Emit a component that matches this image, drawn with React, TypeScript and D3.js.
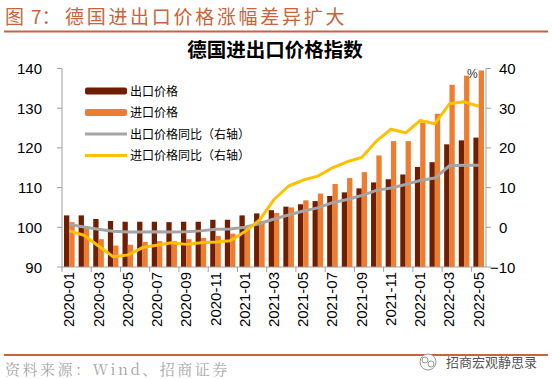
import React from "react";
import * as d3 from "d3";

const categories = [
  "2020-01","2020-02","2020-03","2020-04","2020-05","2020-06","2020-07","2020-08","2020-09","2020-10","2020-11","2020-12",
  "2021-01","2021-02","2021-03","2021-04","2021-05","2021-06","2021-07","2021-08","2021-09","2021-10","2021-11","2021-12",
  "2022-01","2022-02","2022-03","2022-04","2022-05",
];
const exportPrice = [103.0,103.0,102.1,101.6,101.4,101.4,101.4,101.3,101.4,101.4,101.9,101.9,103.0,103.5,104.3,105.2,105.8,106.6,107.9,108.8,109.8,111.3,112.1,113.3,115.2,116.4,120.9,121.9,122.6];
const importPrice = [101.3,100.1,97.0,95.4,95.6,96.3,96.5,96.5,97.0,97.3,97.8,98.4,99.8,101.6,103.6,105.0,106.8,108.5,110.9,112.4,113.9,118.1,121.7,121.7,126.4,128.6,135.9,138.2,139.5];
const exportYoY = [0.7,0.1,-0.5,-1.0,-1.2,-1.2,-1.1,-1.2,-1.1,-0.9,-0.5,-0.4,0.0,0.9,2.1,3.1,4.1,4.9,6.2,7.0,8.0,9.3,9.9,10.8,11.8,12.4,15.5,15.6,15.6];
const importYoY = [-0.9,-2.0,-4.7,-7.4,-7.0,-5.1,-4.5,-3.9,-4.3,-3.9,-3.7,-3.4,-1.1,1.8,7.0,10.4,11.9,12.9,15.0,16.5,17.6,21.7,24.7,23.8,26.9,26.1,31.1,31.6,30.5];
const leftTicks = [90,100,110,120,130,140];
const rightTicks = [-10,0,10,20,30,40];
const legendItems = [
  { label: "出口价格", kind: "bar", color: "#701E00" },
  { label: "进口价格", kind: "bar", color: "#ED7D31" },
  { label: "出口价格同比（右轴）", kind: "line", color: "#A5A5A5" },
  { label: "进口价格同比（右轴）", kind: "line", color: "#FFC000" },
];

const W = 552, H = 379;
const X0 = 62, X1 = 486, YT = 68.5, YB = 267;
const NUM = "'Liberation Sans', Arial, sans-serif";
const CJK = "'Noto Sans CJK SC', sans-serif";
const ACCENT = "#C8643C";

export default function App() {
  const x = d3.scaleBand<string>().domain(categories).range([X0, X1]).padding(0);
  const sub = d3.scaleBand<string>().domain(["e", "i"]).range([0, x.bandwidth()]).paddingInner(0).paddingOuter(0.38);
  const yL = d3.scaleLinear().domain([90, 140]).range([YB, YT]);
  const yR = d3.scaleLinear().domain([-10, 40]).range([YB, YT]);
  const cx = (c: string) => (x(c) as number) + x.bandwidth() / 2;
  const line = d3.line<number>().x((_, i) => cx(categories[i])).y((d) => yR(d));

  return (
    <svg width={W} height={H} style={{ position: "absolute", left: 0, top: 0, background: "#fff" }}>
      <text x={5} y={24} fontFamily={CJK} fontSize={19} fill={ACCENT}>
        <tspan x={5}>图</tspan>
        <tspan x={31}>7：</tspan>
        <tspan x={65} letterSpacing={2.7}>德国进出口价格涨幅差异扩大</tspan>
      </text>
      <line x1={4} x2={548} y1={31.5} y2={31.5} stroke={ACCENT} strokeWidth={2} />
      <text x={275} y={57} textAnchor="middle" fontFamily={CJK} fontSize={19.5} fontWeight="bold" fill="#000">德国进出口价格指数</text>

      {categories.map((c, i) => (
        <g key={c}>
          <rect x={(x(c) as number) + (sub("e") as number)} width={sub.bandwidth()} y={yL(exportPrice[i])} height={YB - yL(exportPrice[i])} fill="#701E00" />
          <rect x={(x(c) as number) + (sub("i") as number)} width={sub.bandwidth()} y={yL(importPrice[i])} height={YB - yL(importPrice[i])} fill="#ED7D31" />
        </g>
      ))}

      <path d={line(exportYoY) as string} fill="none" stroke="#A5A5A5" strokeWidth={3} strokeLinejoin="round" />
      <path d={line(importYoY) as string} fill="none" stroke="#FFC000" strokeWidth={3} strokeLinejoin="round" />

      {/* axes */}
      <line x1={X0} x2={X0} y1={YT} y2={YB} stroke="#A0A0A0" />
      <line x1={X1} x2={X1} y1={YT} y2={YB} stroke="#A0A0A0" />
      <line x1={X0} x2={X1} y1={YB} y2={YB} stroke="#A0A0A0" />
      {leftTicks.map((t) => (
        <g key={"l" + t}>
          <line x1={X0 - 5} x2={X0} y1={yL(t)} y2={yL(t)} stroke="#A0A0A0" />
          <text x={42} y={yL(t) + 5.5} textAnchor="end" fontFamily={NUM} fontSize={15} fill="#000">{t}</text>
        </g>
      ))}
      {rightTicks.map((t) => (
        <g key={"r" + t}>
          <line x1={X1} x2={X1 + 5} y1={yR(t)} y2={yR(t)} stroke="#A0A0A0" />
          <text x={t < 0 ? 490 : 499} y={yR(t) + 5.5} fontFamily={NUM} fontSize={15} fill="#000">{t < 0 ? "−" + Math.abs(t) : t}</text>
        </g>
      ))}
      <text x={467} y={78} fontFamily={NUM} fontSize={12} fill="#333">%</text>
      {categories.map((c, i) =>
        i % 2 === 0 ? (
          <g key={"t" + c}>
            <line x1={x(c) as number} x2={x(c) as number} y1={YB} y2={YB + 5} stroke="#A0A0A0" />
            <text transform={`translate(${cx(c) + 5},${YB + 5}) rotate(-90)`} textAnchor="end" fontFamily={NUM} fontSize={15} fill="#000">{c}</text>
          </g>
        ) : null
      )}

      {/* legend */}
      {legendItems.map((it, i) => {
        const yy = 91 + i * 21.5;
        return (
          <g key={it.label}>
            {it.kind === "bar" ? (
              <rect x={85} y={yy - 3.5} width={42} height={7} rx={2} fill={it.color} />
            ) : (
              <line x1={85} x2={127} y1={yy} y2={yy} stroke={it.color} strokeWidth={3} />
            )}
            <text x={130} y={yy + 4.5} fontFamily={CJK} fontSize={12} fill="#000">{it.label}</text>
          </g>
        );
      })}

      {/* footer */}
      <line x1={4} x2={548} y1={355} y2={355} stroke={ACCENT} strokeWidth={2} />
      <text x={5} y={375} fontFamily={"'Noto Serif CJK SC', 'Liberation Serif', serif"} fontSize={15} letterSpacing={2.5} fill="#A6A6A6">资料来源：Wind、招商证券</text>
      <circle cx={428} cy={362} r={8} fill="#fff" stroke="#999" strokeWidth={1} />
      <circle cx={425} cy={360} r={3} fill="none" stroke="#999" strokeWidth={1} />
      <circle cx={431} cy={364} r={3} fill="none" stroke="#999" strokeWidth={1} />
      <text x={446} y={367} fontFamily={CJK} fontSize={13} fill="#555">招商宏观静思录</text>
    </svg>
  );
}
